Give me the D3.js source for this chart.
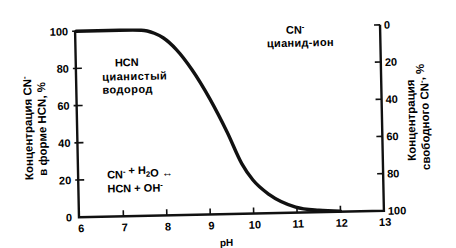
<!DOCTYPE html>
<html>
<head>
<meta charset="utf-8">
<script src="https://cdn.jsdelivr.net/npm/d3@7"></script>
<style>
  body { margin: 0; background: #fff; }
  svg { display: block; }
  text { font-family: "Liberation Sans", Arial, sans-serif; font-weight: bold; fill: #000; }
</style>
</head>
<body>
<div id="chart"></div>
<script>
// curve: % of cyanide present as HCN vs pH
var phValues   = [6, 7, 7.5, 7.8, 8.0, 8.3, 8.65, 9.05, 9.43, 9.75, 10.0, 10.37, 10.97, 11.5, 12];
var hcnPercent = [100, 100, 99.8, 98, 95.5, 89, 78, 62, 44, 27, 18, 10, 3, 1, 0.3];

var xTicks = [6, 7, 8, 9, 10, 11, 12, 13];
var leftTicks = [0, 20, 40, 60, 80, 100];
var rightTicks = [0, 20, 40, 60, 80, 100];

var W = 456, H = 248;

var svg = d3.select("#chart").append("svg")
    .attr("width", W)
    .attr("height", H);

// the scan is a little tilted, so the whole drawing is turned a bit
var g = svg.append("g")
    .attr("transform", "rotate(-1.2,230,121)");

var x = d3.scaleLinear().domain([6, 13]).range([78, 382]);
var yL = d3.scaleLinear().domain([0, 100]).range([214, 28]);
var yR = d3.scaleLinear().domain([0, 100]).range([28, 214]);

var ink = "#111";

// axes lines
g.append("path")
    .attr("d", "M" + (x(6) - 1) + "," + yL(100) + "V" + yL(0) + "H" + x(13) + "V" + yR(0))
    .attr("fill", "none")
    .attr("stroke", ink)
    .attr("stroke-width", 2.4);

// bottom ticks (pointing up)
g.selectAll(".xt")
    .data(xTicks.slice(1, -1))
  .enter().append("line")
    .attr("x1", function(d) { return x(d); })
    .attr("x2", function(d) { return x(d); })
    .attr("y1", yL(0))
    .attr("y2", yL(0) - 6)
    .attr("stroke", ink)
    .attr("stroke-width", 1.6);

g.selectAll(".xl")
    .data(xTicks)
  .enter().append("text")
    .attr("x", function(d) { return x(d) + 1; })
    .attr("y", yL(0) + 15)
    .attr("text-anchor", "middle")
    .style("font-size", "11px")
    .text(function(d) { return d; });

// left ticks
g.selectAll(".lt")
    .data(leftTicks.slice(1))
  .enter().append("line")
    .attr("x1", x(6) - 4)
    .attr("x2", x(6) + 5)
    .attr("y1", function(d) { return yL(d); })
    .attr("y2", function(d) { return yL(d); })
    .attr("stroke", ink)
    .attr("stroke-width", 1.6);

g.selectAll(".ll")
    .data(leftTicks)
  .enter().append("text")
    .attr("x", x(6) - 8)
    .attr("y", function(d) { return yL(d) + 4; })
    .attr("text-anchor", "end")
    .style("font-size", "11px")
    .text(function(d) { return d; });

// right ticks (pointing left)
g.selectAll(".rt")
    .data(rightTicks.slice(0, -1))
  .enter().append("line")
    .attr("x1", x(13) - 6)
    .attr("x2", x(13))
    .attr("y1", function(d) { return yR(d); })
    .attr("y2", function(d) { return yR(d); })
    .attr("stroke", ink)
    .attr("stroke-width", 1.6);

g.selectAll(".rl")
    .data(rightTicks)
  .enter().append("text")
    .attr("x", x(13) + 4)
    .attr("y", function(d) { return yR(d) + 4; })
    .attr("text-anchor", "start")
    .style("font-size", "11px")
    .text(function(d) { return d; });

// the curve
var line = d3.line()
    .x(function(d, i) { return x(phValues[i]); })
    .y(function(d) { return yL(d); })
    .curve(d3.curveMonotoneX);

g.append("path")
    .datum(hcnPercent)
    .attr("d", line)
    .attr("fill", "none")
    .attr("stroke", ink)
    .attr("stroke-width", 3.4)
    .attr("stroke-linecap", "round");

// rich text helper: parts = [[text, "sup"|"sub"|null], ...]
function rich(sel, parts, size) {
  parts.forEach(function(p) {
    var t = sel.append("tspan").text(p[0]);
    if (p[1] == "sup") t.style("font-size", (size * 0.7) + "px").attr("dy", -4);
    else if (p[1] == "sub") t.style("font-size", (size * 0.7) + "px").attr("dy", 3);
    else t.style("font-size", size + "px");
    // bring the baseline back after a raised/lowered bit
    if (p[1] == "sup") sel.append("tspan").attr("dy", 4).text("");
    if (p[1] == "sub") sel.append("tspan").attr("dy", -3).text("");
  });
  return sel;
}

// labels inside the plot
g.append("text").attr("x", 128).attr("y", 64).attr("text-anchor", "middle")
    .style("font-size", "11px").text("HCN");
g.append("text").attr("x", 103).attr("y", 78).style("font-size", "11px")
    .style("letter-spacing", "0.5px").text("цианистый");
g.append("text").attr("x", 103).attr("y", 91).style("font-size", "11px")
    .style("letter-spacing", "0.5px").text("водород");

rich(g.append("text").attr("x", 106).attr("y", 176),
  [["CN", null], ["-", "sup"], [" + H", null], ["2", "sub"], ["O ↔", null]], 11);
rich(g.append("text").attr("x", 106).attr("y", 190),
  [["HCN + OH", null], ["-", "sup"]], 11);

rich(g.append("text").attr("x", 297).attr("y", 35).attr("text-anchor", "middle"),
  [["CN", null], ["-", "sup"]], 11);
g.append("text").attr("x", 302).attr("y", 48).attr("text-anchor", "middle")
    .style("font-size", "11px").style("letter-spacing", "0.3px").text("цианид-ион");

// axis titles
var lt = g.append("text").attr("transform", "translate(32,124) rotate(-90)").attr("text-anchor", "middle");
rich(lt, [["Концентрация CN", null], ["-", "sup"]], 11.5);
g.append("text").attr("transform", "translate(46,125) rotate(-90)").attr("text-anchor", "middle")
    .style("font-size", "11.5px").text("в форме HCN, %");

g.append("text").attr("transform", "translate(415,124) rotate(-90)").attr("text-anchor", "middle")
    .style("font-size", "11.5px").text("Концентрация");
var rt = g.append("text").attr("transform", "translate(429,121) rotate(-90)").attr("text-anchor", "middle");
rich(rt, [["свободного CN", null], ["-", "sup"], [", %", null]], 11.5);

g.append("text").attr("x", 224).attr("y", 246).attr("text-anchor", "middle")
    .style("font-size", "10px").text("pH");
</script>
</body>
</html>
